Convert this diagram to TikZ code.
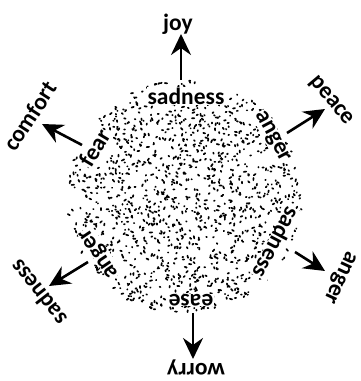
\documentclass[tikz,border=0pt]{standalone}
\usepackage{fontspec}
\setmainfont{Carlito}
\usetikzlibrary{arrows.meta}
\tikzset{
  lbl/.style={font=\fontsize{23.5}{26}\selectfont\bfseries, inner sep=0.6pt},
  inlbl/.style={lbl, fill=white},
  arr/.style={line width=2.6pt, -{Stealth[length=21pt,width=20pt,inset=7pt]}},
  dot/.style={line width=1.7pt, line cap=round}
}
\begin{document}
\begin{tikzpicture}[x=1pt,y=1pt]
\useasboundingbox (0,0) rectangle (360,381);
% stippled disk
\coordinate (C) at (185,184);
\begin{scope}[shift={(185,184)}]
\pgfmathsetseed{11}
\foreach \i in {1,...,1350}{
  \pgfmathsetmacro\rr{117*sqrt(rnd)}
  \pgfmathsetmacro\aa{360*rnd}
  \pgfmathsetmacro\bb{360*rnd}
  \pgfmathsetmacro\ll{0.3+2.2*rnd}
  \draw[dot] (\aa:\rr) -- ++(\bb:\ll);
}
\end{scope}
% labels inside the disk
\node[inlbl] (s1) at (186,285) {sadness};
\node[inlbl, rotate=-62] (a1) at (272,244) {anger};
\node[inlbl, rotate=59] (f1) at (95,233) {fear};
\node[inlbl, rotate=124] (a2) at (100,128) {anger};
\node[inlbl, rotate=180] (e1) at (191,81) {ease};
\node[inlbl, rotate=-118] (s2) at (277,138) {sadness};
% outer labels
\node[lbl] (joy) at (178,357) {joy};
\node[lbl, rotate=-50] (peace) at (331,280) {peace};
\node[lbl, rotate=57] (comfort) at (30,265) {comfort};
\node[lbl, rotate=180] (worry) at (196,14) {worry};
\node[lbl, rotate=-115] (anger) at (339,104) {anger};
\node[lbl, rotate=128] (sadness) at (38,88) {sadness};
% arrow ends
\coordinate (jt) at (181,301); \coordinate (jh) at (181,347);
\coordinate (pt) at (287,248); \coordinate (ph) at (325,272);
\coordinate (ct) at (82,236);  \coordinate (ch) at (42,257);
\coordinate (wt) at (193,68);  \coordinate (wh) at (193,22);
\coordinate (at) at (295,129); \coordinate (ah) at (325,110);
\coordinate (st) at (88,119);  \coordinate (sh) at (49,95);
\draw[arr] (jt) -- (jh);
\draw[arr] (pt) -- (ph);
\draw[arr] (ct) -- (ch);
\draw[arr] (wt) -- (wh);
\draw[arr] (at) -- (ah);
\draw[arr] (st) -- (sh);
\end{tikzpicture}
\end{document}
